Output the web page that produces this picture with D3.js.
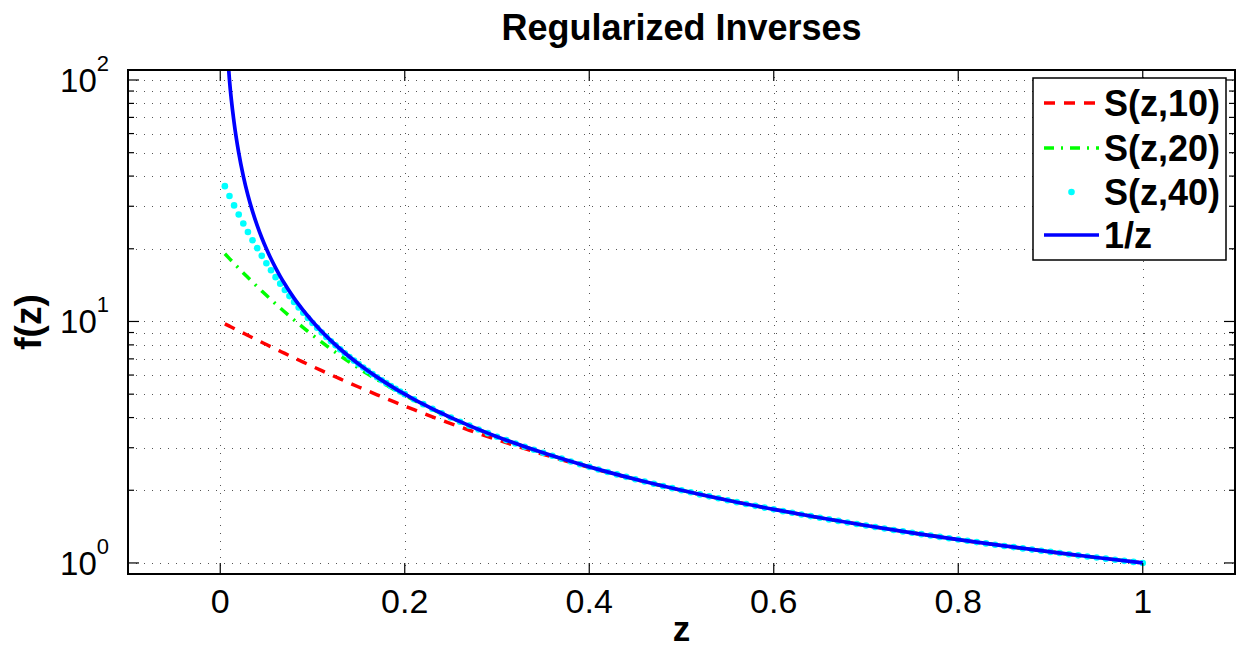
<!DOCTYPE html>
<html>
<head>
<meta charset="utf-8">
<script src="https://cdn.jsdelivr.net/npm/d3@7"></script>
<style>
  html, body { margin: 0; padding: 0; background: #fff; }
  svg { display: block; font-family: "Liberation Sans", Arial, Helvetica, sans-serif; }
</style>
</head>
<body>
<svg id="chart" width="1239" height="650"></svg>
<script>
// ---------------- data ----------------
const titleText = "Regularized Inverses";
const xLabel = "z";
const yLabel = "f(z)";
const xTicks = [0, 0.2, 0.4, 0.6, 0.8, 1];
const xTickLabels = ["0", "0.2", "0.4", "0.6", "0.8", "1"];
const yMajorTicks = [1, 10, 100];
const yTickExponents = ["0", "1", "2"];
const yMinorTicks = [2, 3, 4, 5, 6, 7, 8, 9, 20, 30, 40, 50, 60, 70, 80, 90];
const seriesNames = ["S(z,10)", "S(z,20)", "S(z,40)", "1/z"];

const zLine = [0.005,0.01,0.015,0.02,0.025,0.03,0.035,0.04,0.045,0.05,0.055,0.06,0.065,0.07,0.075,0.08,0.085,0.09,0.095,0.1,
  0.11,0.12,0.13,0.14,0.15,0.16,0.17,0.18,0.19,0.2,0.21,0.22,0.23,0.24,0.25,0.26,0.27,0.28,0.29,0.3,
  0.35,0.4,0.45,0.5,0.55,0.6,0.65,0.7,0.75,0.8,0.85,0.9,0.95,1.0];

const s10 = [9.778,9.562,9.351,9.146,8.947,8.753,8.563,8.379,8.200,8.025,7.855,7.690,7.529,7.372,7.219,7.070,6.925,6.784,6.647,6.513,
  6.256,6.013,5.781,5.562,5.354,5.157,4.970,4.792,4.623,4.463,4.311,4.167,4.029,3.899,3.775,3.657,3.545,3.438,3.336,3.239,
  2.819,2.485,2.217,1.998,1.818,1.667,1.538,1.429,1.333,1.25,1.176,1.111,1.053,1.0];

const s20 = [19.08,18.21,17.39,16.62,15.89,15.21,14.56,13.95,13.37,12.83,12.32,11.83,11.37,10.94,10.53,10.14,9.774,9.426,9.097,8.784,
  8.207,7.687,7.218,6.793,6.408,6.059,5.741,5.451,5.185,4.942,4.719,4.514,4.325,4.149,3.987,3.837,3.697,3.566,3.445,3.331,
  2.857,2.5,2.222,2.0,1.818,1.667,1.538,1.429,1.333,1.25,1.176,1.111,1.053,1.0];

const inv = [200,100,66.67,50,40,33.33,28.57,25,22.22,20,18.18,16.67,15.38,14.29,13.33,12.5,11.76,11.11,10.53,10,
  9.091,8.333,7.692,7.143,6.667,6.25,5.882,5.556,5.263,5,4.762,4.545,4.348,4.167,4,3.846,3.704,3.571,3.448,3.333,
  2.857,2.5,2.222,2,1.818,1.667,1.538,1.429,1.333,1.25,1.176,1.111,1.053,1];

const zDots = [0.005,0.01,0.015,0.02,0.025,0.03,0.035,0.04,0.045,0.05,0.055,0.06,0.065,0.07,0.075,0.08,0.085,0.09,0.095,0.1,
  0.105,0.11,0.115,0.12,0.125,0.13,0.135,0.14,0.145,0.15,0.155,0.16,0.165,0.17,0.175,0.18,0.185,0.19,0.195,0.2,
  0.21,0.22,0.23,0.24,0.25,0.26,0.27,0.28,0.29,0.3,0.31,0.32,0.33,0.34,0.35,0.36,0.37,0.38,0.39,0.4,
  0.41,0.42,0.43,0.44,0.45,0.46,0.47,0.48,0.49,0.5,0.51,0.52,0.53,0.54,0.55,0.56,0.57,0.58,0.59,0.6,
  0.61,0.62,0.63,0.64,0.65,0.66,0.67,0.68,0.69,0.7,0.71,0.72,0.73,0.74,0.75,0.76,0.77,0.78,0.79,0.8,
  0.81,0.82,0.83,0.84,0.85,0.86,0.87,0.88,0.89,0.9,0.91,0.92,0.93,0.94,0.95,0.96,0.97,0.98,0.99,1.0];

const s40 = [36.34,33.10,30.25,27.72,25.47,23.48,21.70,20.12,18.70,17.43,16.29,15.26,14.34,13.50,12.74,12.05,11.43,10.86,10.33,9.852,
  9.411,9.005,8.630,8.283,7.962,7.663,7.385,7.126,6.883,6.657,6.444,6.244,6.056,5.879,5.712,5.554,5.404,5.262,5.128,5.0,
  4.762,4.545,4.348,4.167,4.0,3.846,3.704,3.571,3.448,3.333,3.226,3.125,3.030,2.941,2.857,2.778,2.703,2.632,2.564,2.5,
  2.439,2.381,2.326,2.273,2.222,2.174,2.128,2.083,2.041,2.0,1.961,1.923,1.887,1.852,1.818,1.786,1.754,1.724,1.695,1.667,
  1.639,1.613,1.587,1.563,1.538,1.515,1.493,1.471,1.449,1.429,1.408,1.389,1.370,1.351,1.333,1.316,1.299,1.282,1.266,1.25,
  1.235,1.220,1.205,1.190,1.176,1.163,1.149,1.136,1.124,1.111,1.099,1.087,1.075,1.064,1.053,1.042,1.031,1.020,1.010,1.0];

// ---------------- layout ----------------
const L = 128, R = 1235, T = 70, B = 574;

const x = d3.scaleLinear().domain([-0.1, 1.1]).range([L, R]);
const y = d3.scaleLog().domain([0.9, 110]).range([B, T]);

const svg = d3.select("#chart");

svg.append("defs").append("clipPath").attr("id", "plotclip")
  .append("rect").attr("x", L).attr("y", T).attr("width", R - L).attr("height", B - T);

// grid
const grid = svg.append("g").attr("stroke", "#555").attr("stroke-width", 1)
  .attr("stroke-dasharray", "1 7").attr("fill", "none").attr("shape-rendering", "crispEdges");
grid.selectAll("line.hy").data(yMajorTicks.concat(yMinorTicks)).join("line")
  .attr("class", "hy")
  .attr("x1", L).attr("x2", R)
  .attr("y1", d => Math.round(y(d)) + 0.5).attr("y2", d => Math.round(y(d)) + 0.5);
grid.selectAll("line.vx").data(xTicks).join("line")
  .attr("class", "vx")
  .attr("y1", B).attr("y2", T)
  .attr("x1", d => Math.round(x(d)) + 0.5).attr("x2", d => Math.round(x(d)) + 0.5);

// data
const plot = svg.append("g").attr("clip-path", "url(#plotclip)");
const lineGen = d3.line().x(d => x(d[0])).y(d => y(d[1])).curve(d3.curveMonotoneX);
const pairs = (zs, vs) => zs.map((z, i) => [z, vs[i]]);

plot.append("path").datum(pairs(zLine, s10))
  .attr("d", lineGen).attr("fill", "none").attr("stroke", "#ff0000")
  .attr("stroke-width", 3.5).attr("stroke-dasharray", "11 9");

plot.append("path").datum(pairs(zLine, s20))
  .attr("d", lineGen).attr("fill", "none").attr("stroke", "#00ff00")
  .attr("stroke-width", 3.5).attr("stroke-dasharray", "10 7 2 7");

plot.append("g").attr("fill", "#00ffff").selectAll("circle")
  .data(pairs(zDots, s40)).join("circle")
  .attr("cx", d => x(d[0])).attr("cy", d => y(d[1])).attr("r", 3.3);

plot.append("path").datum(pairs(zLine, inv))
  .attr("d", lineGen).attr("fill", "none").attr("stroke", "#0000ff")
  .attr("stroke-width", 3.7);

// axes box and ticks
const ax = svg.append("g").attr("stroke", "#000").attr("fill", "none");
ax.append("rect").attr("x", L).attr("y", T).attr("width", R - L).attr("height", B - T)
  .attr("stroke-width", 2);
const tk = ax.append("g").attr("stroke-width", 1.2);
xTicks.forEach(v => {
  const px = x(v);
  tk.append("line").attr("x1", px).attr("x2", px).attr("y1", B).attr("y2", B - 11);
  tk.append("line").attr("x1", px).attr("x2", px).attr("y1", T).attr("y2", T + 11);
});
yMajorTicks.forEach(v => {
  const py = y(v);
  tk.append("line").attr("y1", py).attr("y2", py).attr("x1", L).attr("x2", L + 11);
  tk.append("line").attr("y1", py).attr("y2", py).attr("x1", R).attr("x2", R - 11);
});
yMinorTicks.forEach(v => {
  const py = y(v);
  tk.append("line").attr("y1", py).attr("y2", py).attr("x1", L).attr("x2", L + 6);
  tk.append("line").attr("y1", py).attr("y2", py).attr("x1", R).attr("x2", R - 6);
});

// tick labels
svg.append("g").selectAll("text").data(xTicks).join("text")
  .attr("x", d => x(d)).attr("y", 613)
  .attr("text-anchor", "middle").attr("font-size", 34).attr("fill", "#000")
  .text((d, i) => xTickLabels[i]);

const yl = svg.append("g");
yMajorTicks.forEach((v, i) => {
  const t = yl.append("text").attr("x", 109).attr("y", y(v) + 12)
    .attr("text-anchor", "end").attr("font-size", 33).attr("fill", "#000");
  t.append("tspan").text("10");
  t.append("tspan").attr("font-size", 22).attr("dy", -21).text(yTickExponents[i]);
});

// title and axis labels
svg.append("text").attr("x", (L + R) / 2).attr("y", 40).attr("text-anchor", "middle")
  .attr("font-size", 36).attr("font-weight", "bold").attr("fill", "#000").text(titleText);
svg.append("text").attr("x", (L + R) / 2).attr("y", 641).attr("text-anchor", "middle")
  .attr("font-size", 35).attr("font-weight", "bold").attr("fill", "#000").text(xLabel);
svg.append("text").attr("transform", `translate(41, ${(T + B) / 2}) rotate(-90)`)
  .attr("text-anchor", "middle")
  .attr("font-size", 37).attr("font-weight", "bold").attr("fill", "#000").text(yLabel);

// legend
const lg = svg.append("g");
lg.append("rect").attr("x", 1033).attr("y", 78).attr("width", 193).attr("height", 182)
  .attr("fill", "#fff").attr("stroke", "#000").attr("stroke-width", 1.5);
const legY = [103, 148, 192, 235];
const legStyles = [
  { color: "#ff0000", dash: "11 9", type: "line" },
  { color: "#00ff00", dash: "10 7 2 7", type: "line" },
  { color: "#00ffff", dash: null, type: "dot" },
  { color: "#0000ff", dash: null, type: "line" }
];
seriesNames.forEach((name, i) => {
  const st = legStyles[i], cy = legY[i];
  if (st.type === "line") {
    const ln = lg.append("line").attr("x1", 1044).attr("x2", 1099).attr("y1", cy).attr("y2", cy)
      .attr("stroke", st.color).attr("stroke-width", 3.5);
    if (st.dash) ln.attr("stroke-dasharray", st.dash);
  } else {
    lg.append("circle").attr("cx", 1071.5).attr("cy", cy).attr("r", 3.3).attr("fill", st.color);
  }
  lg.append("text").attr("x", 1104).attr("y", cy + 13)
    .attr("font-size", 36).attr("font-weight", "bold").attr("fill", "#000").text(name);
});
</script>
</body>
</html>
